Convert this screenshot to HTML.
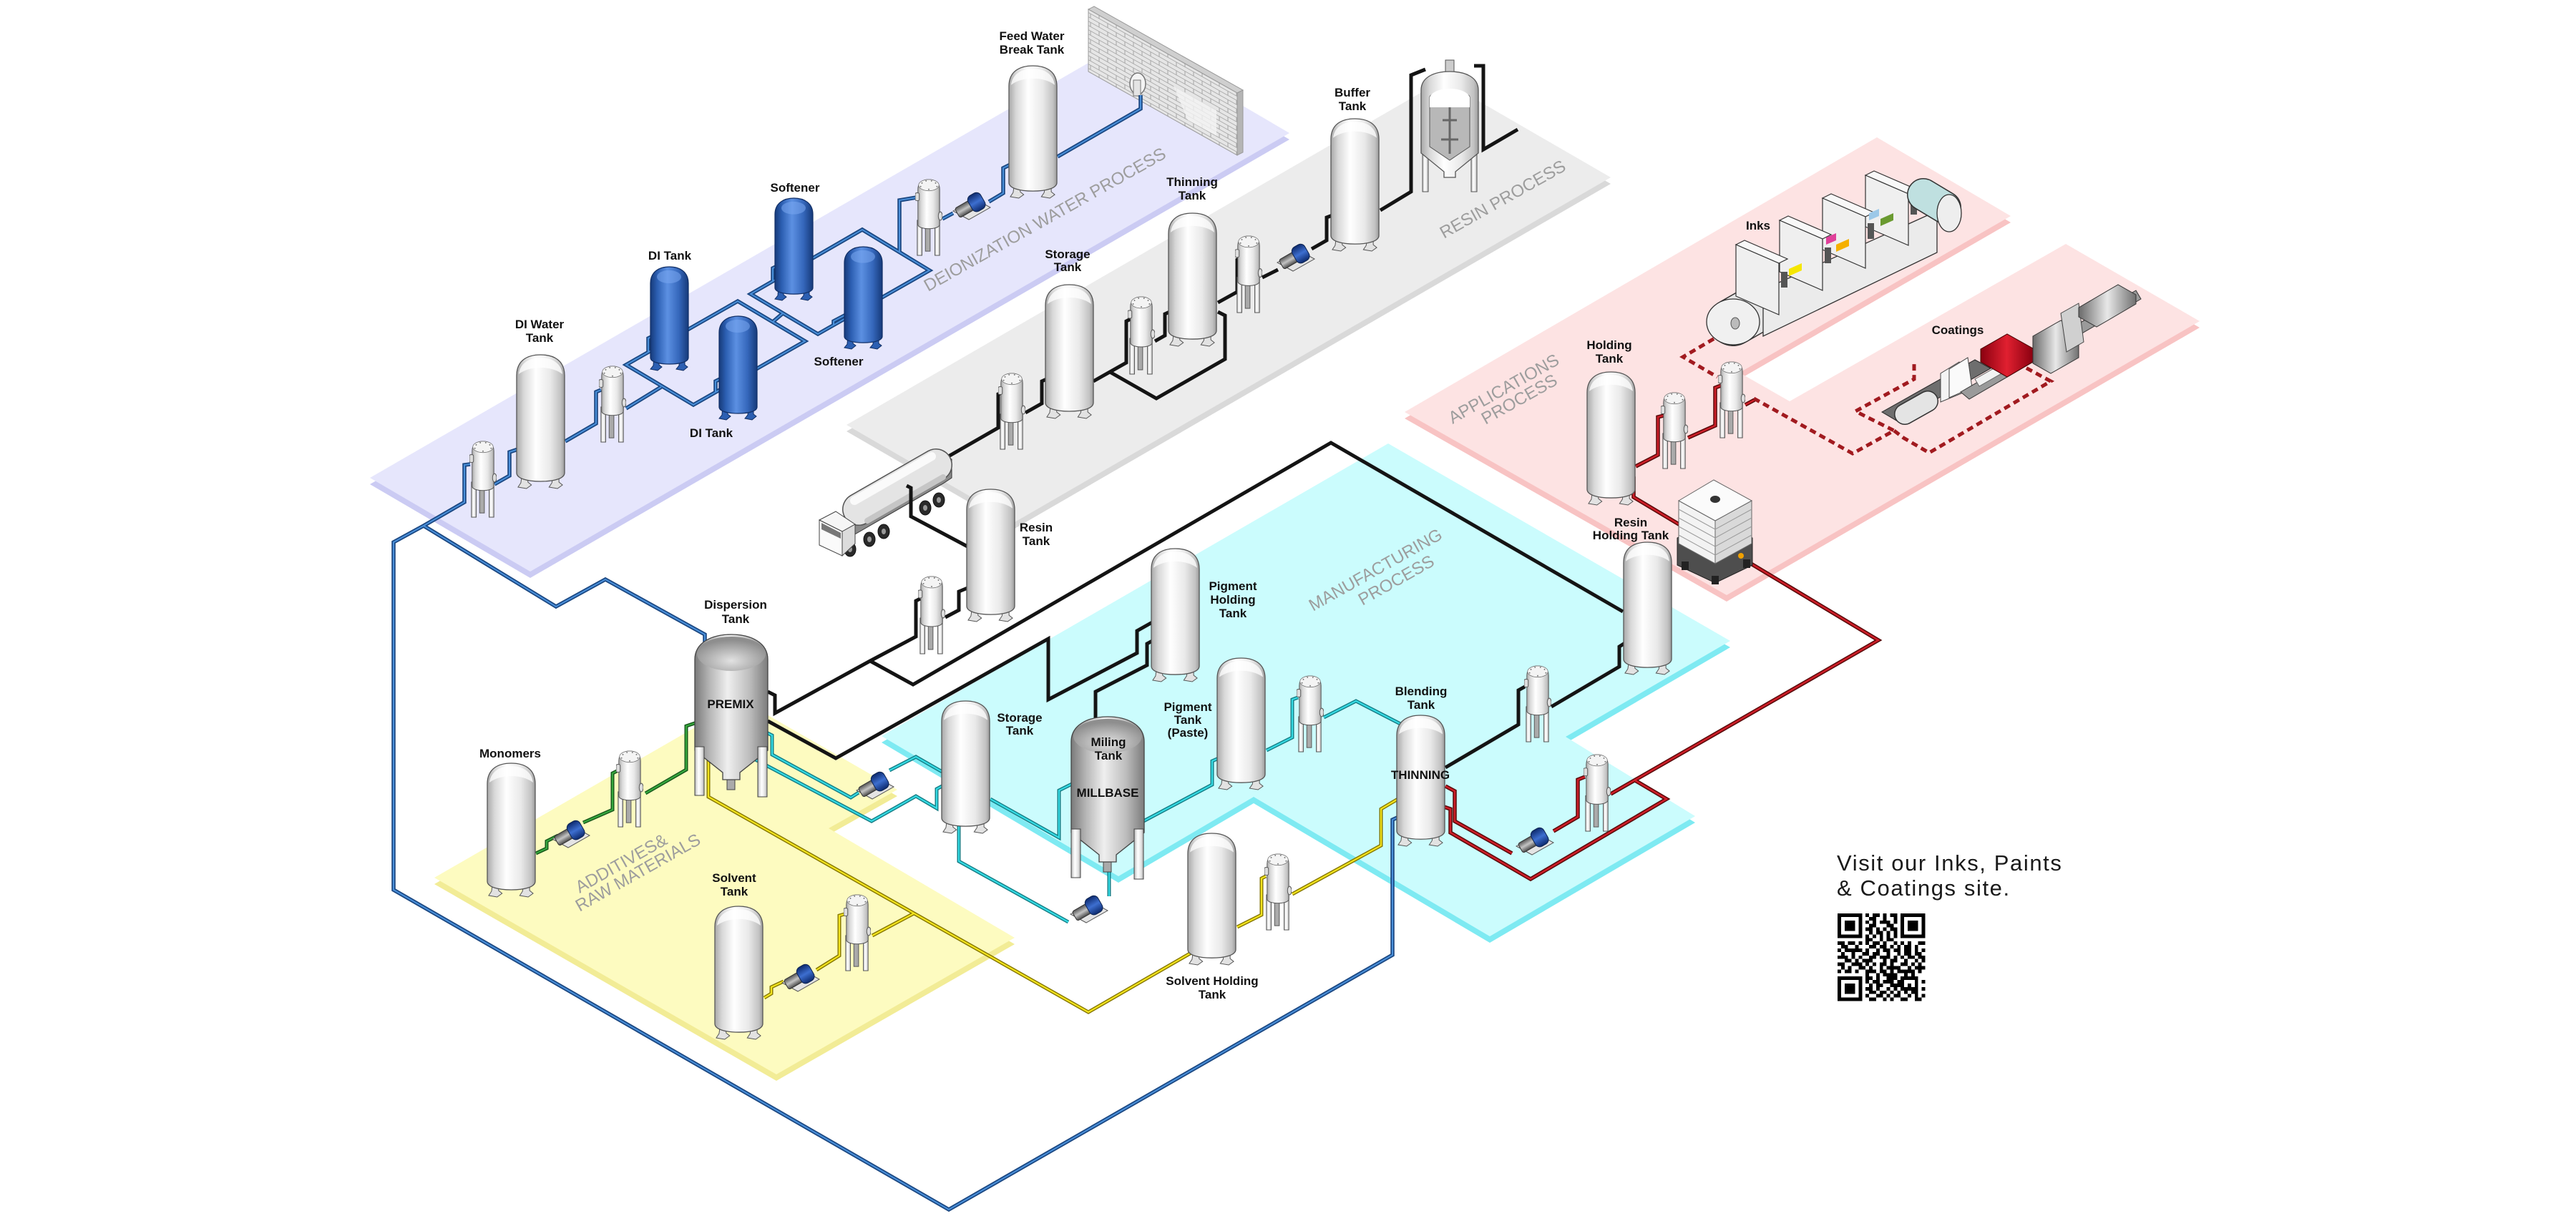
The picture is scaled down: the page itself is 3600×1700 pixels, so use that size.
<!DOCTYPE html>
<html><head><meta charset="utf-8">
<style>
html,body{margin:0;padding:0;background:#fff;}
svg{display:block;}
.lb{font-family:"Liberation Sans",Arial,sans-serif;font-weight:bold;font-size:17px;fill:#111;text-anchor:middle;}
.pl{font-family:"Liberation Sans",Arial,sans-serif;font-size:24px;fill:#9d9d9d;}
.p{fill:none;stroke-linejoin:miter;stroke-linecap:butt;}
.bo{stroke:#1b4781;stroke-width:5.5}.bi{stroke:#4a90da;stroke-width:2}
.k{stroke:#141414;stroke-width:5}
.to{stroke:#147c84;stroke-width:5}.ti{stroke:#36dbe4;stroke-width:2.2}
.yo{stroke:#857600;stroke-width:5}.yi{stroke:#f3e41e;stroke-width:2.2}
.go{stroke:#15551a;stroke-width:5}.gi{stroke:#37a83e;stroke-width:2.2}
.ro{stroke:#560808;stroke-width:5.5}.ri{stroke:#cc1e28;stroke-width:2.6}
.rd{stroke:#a11a1f;stroke-width:5;stroke-dasharray:9 6;fill:none}
</style></head><body>
<svg width="3600" height="1700" viewBox="0 0 3600 1700" xmlns="http://www.w3.org/2000/svg">
<defs>
<linearGradient id="gT" x1="0" x2="1" y1="0" y2="0">
<stop offset="0" stop-color="#a8a8a8"/><stop offset=".15" stop-color="#d8d8d8"/><stop offset=".4" stop-color="#ffffff"/><stop offset=".7" stop-color="#e9e9e9"/><stop offset=".92" stop-color="#c2c2c2"/><stop offset="1" stop-color="#9a9a9a"/>
</linearGradient>
<linearGradient id="gB" x1="0" x2="1" y1="0" y2="0">
<stop offset="0" stop-color="#163a7a"/><stop offset=".18" stop-color="#2c5fb2"/><stop offset=".45" stop-color="#5c90e2"/><stop offset=".75" stop-color="#3567bb"/><stop offset="1" stop-color="#163a7a"/>
</linearGradient>
<linearGradient id="gP" x1="0" x2="1" y1="0" y2="0">
<stop offset="0" stop-color="#7a7a7a"/><stop offset=".2" stop-color="#b5b5b5"/><stop offset=".45" stop-color="#efefef"/><stop offset=".75" stop-color="#bdbdbd"/><stop offset="1" stop-color="#7c7c7c"/>
</linearGradient>
<radialGradient id="gPt" cx=".5" cy=".7" r=".6">
<stop offset="0" stop-color="#e2e2e2"/><stop offset="1" stop-color="#8e8e8e"/>
</radialGradient>
<linearGradient id="gG" x1="0" x2="0" y1="0" y2="1">
<stop offset="0" stop-color="#555"/><stop offset=".5" stop-color="#c4c4c4"/><stop offset="1" stop-color="#4a4a4a"/>
</linearGradient>
<linearGradient id="gBl" x1="0" x2="0" y1="0" y2="1">
<stop offset="0" stop-color="#0d2a6e"/><stop offset=".5" stop-color="#3d6fd0"/><stop offset="1" stop-color="#0d2a6e"/>
</linearGradient>
<linearGradient id="gR" x1="0" x2="1" y1="0" y2="0">
<stop offset="0" stop-color="#8a0010"/><stop offset=".5" stop-color="#e02030"/><stop offset="1" stop-color="#8a0010"/>
</linearGradient>
<linearGradient id="gHood" x1="0" x2="1" y1="0" y2="0">
<stop offset="0" stop-color="#6a6a6a"/><stop offset=".5" stop-color="#e8e8e8"/><stop offset="1" stop-color="#707070"/>
</linearGradient>
<pattern id="brick" width="24" height="12" patternUnits="userSpaceOnUse" patternTransform="skewY(29.4)">
<rect width="24" height="12" fill="#e6e6e6"/>
<path d="M0,0.5H24M0,6.5H24M12,0V6M0,6V12M24,6V12" stroke="#a8a8a8" stroke-width="1" fill="none"/>
</pattern>

<symbol id="tk" viewBox="0 0 70 190" preserveAspectRatio="none">
<path d="M9,166h8v13l5,4-7,5-12-2 4-6z" fill="#e2e2e2" stroke="#555" stroke-width="1"/>
<path d="M53,166h8v13l5,4-7,5-12-2 4-6z" fill="#e2e2e2" stroke="#555" stroke-width="1"/>
<path d="M1,30C1,9 16,1 35,1C54,1 69,9 69,30V166C69,174 54,178 35,178C16,178 1,174 1,166Z" fill="url(#gT)" stroke="#555" stroke-width="1.3"/>
<path d="M4,28C6,12 20,5 35,5C50,5 64,12 66,28C58,22 47,19 35,19C23,19 12,22 4,28Z" fill="#fff" opacity=".75"/>
</symbol>
<symbol id="bt" viewBox="0 0 55 148" preserveAspectRatio="none">
<path d="M6,126h7v12l4,3-6,5-10-2 4-5z" fill="#2c5fb2" stroke="#0f2c60"/>
<path d="M42,126h7v12l4,3-6,5-10-2 4-5z" fill="#2c5fb2" stroke="#0f2c60"/>
<path d="M1,24C1,8 13,1 27.5,1C42,1 54,8 54,24V128C54,134 42,137 27.5,137C13,137 1,134 1,128Z" fill="url(#gB)" stroke="#112f66" stroke-width="1.2"/>
<ellipse cx="27" cy="15" rx="17" ry="9" fill="#7aa8f0" opacity=".55"/>
</symbol>
<symbol id="fl" viewBox="0 0 40 112" preserveAspectRatio="none">
<rect x="15" y="60" width="7" height="44" fill="#aaa" stroke="#555"/>
<rect x="3" y="60" width="7" height="50" fill="url(#gT)" stroke="#555"/>
<rect x="29" y="60" width="7" height="50" fill="url(#gT)" stroke="#555"/>
<path d="M4,16C4,5 12,2 20,2C28,2 36,5 36,16V66C36,70 28,72 20,72C12,72 4,70 4,66Z" fill="url(#gT)" stroke="#555"/>
<ellipse cx="20" cy="10" rx="15" ry="8" fill="#f4f4f4" stroke="#777" stroke-width=".8"/>
<g fill="#777"><circle cx="10" cy="7" r="1"/><circle cx="16" cy="4" r="1"/><circle cx="24" cy="4" r="1"/><circle cx="30" cy="7" r="1"/><circle cx="32" cy="12" r="1"/><circle cx="8" cy="12" r="1"/><circle cx="20" cy="16" r="1"/></g>
<rect x="0" y="21" width="6" height="11" rx="2" fill="#ddd" stroke="#555"/>
<ellipse cx="37" cy="54" rx="3" ry="6" fill="#ddd" stroke="#555"/>
</symbol>
<symbol id="pm" viewBox="0 0 56 46">
<polygon points="2,33 32,16 54,28 24,45" fill="#e4e4e4" stroke="#555"/>
<g transform="rotate(-30 28 25)">
<rect x="5" y="17" width="23" height="15" rx="3" fill="url(#gG)" stroke="#333"/>
<rect x="26" y="12" width="20" height="25" rx="7" fill="url(#gBl)" stroke="#0e2450"/>
</g>
</symbol>
<symbol id="dt" viewBox="0 0 104 230">
<rect x="46" y="150" width="11" height="68" fill="#aaa" stroke="#444"/>
<path d="M1,36C1,12 25,1 52,1C79,1 103,12 103,36V163L64,194V204H40V194L1,163Z" fill="url(#gP)" stroke="#444" stroke-width="1.3"/>
<ellipse cx="52" cy="28" rx="48" ry="24" fill="url(#gPt)"/>
<rect x="1" y="158" width="13" height="68" fill="url(#gT)" stroke="#444"/>
<rect x="89" y="158" width="13" height="70" fill="url(#gT)" stroke="#444"/>
</symbol>

<g id="BL">
<path d="M657,649L649,650L649,702L592,735L550,758L550,1244L1326,1691L1946,1335L1946,1146L1957,1141"/>
<path d="M592,735L777,848L846,810L985,887L985,903"/>
<path d="M691,677L712,665L712,632L724,628"/>
<path d="M790,617L833,592L833,548L840,545"/>
<path d="M875,571L924,541"/>
<path d="M875,510L1031,421L1125,477L969,566Z"/>
<path d="M912,470L906,473L906,492"/>
<path d="M1006,530L1000,533L1000,549"/>
<path d="M1049,411L1205,321L1299,378L1143,467Z"/>
<path d="M1080,450L1094,438"/>
<path d="M1086,372L1080,375L1080,393"/>
<path d="M1182,440L1165,449L1165,455"/>
<path d="M1257,353L1257,280L1281,276"/>
<path d="M1317,306L1332,298"/>
<path d="M1382,282L1402,270L1402,235L1412,230"/>
<path d="M1478,219L1594,152L1594,133"/>
</g>
<g id="TL">
<path d="M1067,1022L1079,1028L1079,1055L1189,1115L1200,1108"/>
<path d="M1243,1077L1280,1058L1315,1078L1320,1075"/>
<path d="M1047,1033L1052,1040L1052,1060L1218,1148L1280,1113L1309,1130L1309,1103L1324,1095"/>
<path d="M1384,1117L1480,1171L1480,1105L1506,1092"/>
<path d="M1350,1141L1340,1148L1340,1204L1493,1289"/>
<path d="M1550,1253L1550,1210"/>
<path d="M1598,1148L1694,1097L1694,1064L1710,1057"/>
<path d="M1770,1049L1806,1031L1806,978L1814,975"/>
<path d="M1850,1003L1895,980L1961,1014L1961,1022"/>
</g>
<g id="YL">
<path d="M997,1038L990,1043L990,1114L1521,1415L1663,1333L1663,1310L1670,1306"/>
<path d="M1068,1395L1078,1389L1078,1380L1095,1372"/>
<path d="M1141,1356L1173,1336L1173,1280L1180,1278"/>
<path d="M1219,1308L1277,1277"/>
<path d="M1729,1296L1763,1279L1763,1228L1769,1225"/>
<path d="M1806,1250L1930,1182L1930,1131L1957,1115"/>
</g>
<g id="GL">
<path d="M749,1193L764,1186L764,1176L780,1168"/>
<path d="M815,1150L856,1132L856,1081L862,1078"/>
<path d="M902,1109L959,1076L959,1015L974,1010"/>
</g>
<g id="RL">
<path d="M2286,652L2317,636L2317,583L2325,581"/>
<path d="M2359,612L2397,595L2397,542L2405,539"/>
<path d="M2439,566L2452,559"/>
<path d="M2275,664L2283,668L2283,695L2348,734"/>
<path d="M2432,779L2625,895L2251,1110"/>
<path d="M2285,1091L2329,1117L2139,1229L2027,1164L2027,1131L2018,1128"/>
<path d="M2020,1099L2033,1106L2033,1148L2113,1193"/>
<path d="M2171,1162L2205,1142L2205,1090L2215,1086"/>
</g>
</defs>

<rect width="3600" height="1700" fill="#fff"/>

<!-- bands -->
<polygon points="517,677 1578,64 1802,195 741,808" fill="#cbcbf3"/>
<polygon points="517,668 1578,55 1802,186 741,799" fill="#e6e6fc"/>
<polygon points="1183,603 2016,121 2251,257 1418,739" fill="#d9d9d9"/>
<polygon points="1183,594 2016,112 2251,248 1418,730" fill="#ececec"/>
<polygon points="1963,585 2623,201 2810,311 2431,530 2501,570 2887,350 3074,458 2413,841" fill="#f8c3c3"/>
<polygon points="1963,576 2623,192 2810,302 2431,521 2501,561 2887,341 3074,449 2413,832" fill="#fde3e3"/>
<polygon points="1232,1038 1940,629 2418,905 2188,1039 2369,1150 2082,1318 1752,1123 1563,1234" fill="#7eeaf2"/>
<polygon points="1232,1029 1940,620 2418,896 2188,1030 2369,1141 2082,1309 1752,1114 1563,1225" fill="#cbfcfd"/>
<polygon points="607,1236 1037,988 1254,1113 1158,1167 1418,1320 1085,1511" fill="#f2ec96"/>
<polygon points="607,1227 1037,979 1254,1104 1158,1158 1418,1311 1085,1502" fill="#fdfbc0"/>

<!-- process labels -->
<text class="pl" transform="translate(1297,408) rotate(-29.4)">DEIONIZATION WATER PROCESS</text>
<text class="pl" font-size="25" transform="translate(2018,334) rotate(-29.4)">RESIN PROCESS</text>
<text class="pl" transform="translate(2030,593) rotate(-29.4)">APPLICATIONS</text>
<text class="pl" transform="translate(2076,594) rotate(-29.4)">PROCESS</text>
<text class="pl" transform="translate(1835,855) rotate(-29.4)">MANUFACTURING</text>
<text class="pl" transform="translate(1904,847) rotate(-29.4)">PROCESS</text>
<text class="pl" transform="translate(810,1249) rotate(-29.4)">ADDITIVES&amp;</text>
<text class="pl" transform="translate(810,1275) rotate(-29.4)">RAW MATERIALS</text>

<!-- brick wall -->
<polygon points="1521,13 1529,9 1737,126 1729,130" fill="#cfcfcf" stroke="#999"/>
<polygon points="1729,130 1737,126 1737,213 1729,217" fill="#b5b5b5" stroke="#999"/>
<polygon points="1521,13 1729,130 1729,217 1521,100" fill="url(#brick)" stroke="#999"/>
<polygon points="1640,120 1700,154 1700,190 1660,168" fill="#f4f4f4" opacity=".8"/>
<ellipse cx="1590" cy="117" rx="11" ry="15" fill="#f4f4f4" stroke="#777" stroke-width="1.5"/>
<rect x="1584" y="112" width="10" height="22" fill="#e4e4e4" stroke="#777"/>

<!-- pipes -->
<use href="#BL" class="p bo"/><use href="#BL" class="p bi"/>
<g class="p k">
<path d="M1073,967L1083,972L1083,997L1216,924L1280,890L1280,840L1286,837"/>
<path d="M1216,924L1276,957L1860,619L2268,855"/>
<path d="M1321,863L1340,853L1340,827L1357,820"/>
<path d="M1073,1008L1168,1060L1465,893L1465,978L1589,913L1589,882L1612,869"/>
<path d="M1531,1008L1531,967L1603,930L1603,900L1612,895"/>
<path d="M1322,640L1395,598L1395,551L1400,549"/>
<path d="M1433,577L1456,564L1456,533L1467,528"/>
<path d="M1528,533L1574,507L1574,449L1580,446"/>
<path d="M1551,520L1616,557L1712,502L1712,441L1702,436"/>
<path d="M1614,477L1628,469L1628,439L1639,434"/>
<path d="M1702,423L1729,408L1729,363L1735,360"/>
<path d="M1764,388L1786,377"/>
<path d="M1833,348L1854,336L1854,304L1862,301"/>
<path d="M1929,294L1972,268L1972,105L1992,97"/>
<path d="M2060,92L2073,92L2073,209L2121,181"/>
<path d="M2020,1073L2122,1013L2122,965L2131,960"/>
<path d="M2168,988L2263,932L2263,904L2277,895"/>
</g>
<use href="#TL" class="p to"/><use href="#TL" class="p ti"/>
<use href="#YL" class="p yo"/><use href="#YL" class="p yi"/>
<use href="#GL" class="p go"/><use href="#GL" class="p gi"/>
<use href="#RL" class="p ro"/><use href="#RL" class="p ri"/>
<path class="rd" d="M2408,466L2352,499L2400,527"/>
<path class="rd" d="M2451,557L2589,634L2647,602L2593,575L2675,530L2675,508"/>
<path class="rd" d="M2647,602L2660,612L2696,633L2866,533L2792,493"/>

<!-- hopper -->
<rect x="1988" y="195" width="8" height="73" fill="url(#gT)" stroke="#555"/>
<rect x="2056" y="195" width="8" height="73" fill="url(#gT)" stroke="#555"/>
<rect x="2020" y="84" width="12" height="20" fill="#ccc" stroke="#555"/>
<path d="M1986,126C1986,108 2004,100 2026,100C2048,100 2066,108 2066,126V214L2034,240V248H2018V240L1986,214Z" fill="url(#gT)" stroke="#555" stroke-width="1.3"/>
<path d="M1998,136C1998,126 2054,126 2054,136V205L2026,224L1998,205Z" fill="#b8b8b8" stroke="#555"/>
<path d="M1998,136C2004,120 2048,120 2054,136V150H1998Z" fill="#fff"/>
<path d="M2026,150V215M2016,168h20M2014,195h24" stroke="#666" stroke-width="3"/>

<!-- truck -->
<polygon points="1186,752 1318,676 1330,668 1330,642 1322,638 1200,708 1192,730" fill="#8a8a8a" stroke="#333"/>
<g fill="#2a2a2a" stroke="#111">
<ellipse cx="1188" cy="768" rx="8" ry="10"/><ellipse cx="1215" cy="754" rx="8" ry="10"/><ellipse cx="1235" cy="743" rx="8" ry="10"/>
<ellipse cx="1293" cy="710" rx="8" ry="10"/><ellipse cx="1312" cy="699" rx="8" ry="10"/>
</g>
<g fill="#999"><ellipse cx="1188" cy="768" rx="3" ry="4"/><ellipse cx="1215" cy="754" rx="3" ry="4"/><ellipse cx="1235" cy="743" rx="3" ry="4"/><ellipse cx="1293" cy="710" rx="3" ry="4"/><ellipse cx="1312" cy="699" rx="3" ry="4"/></g>
<line x1="1200" y1="712" x2="1308" y2="650" stroke="#555" stroke-width="46" stroke-linecap="round"/>
<line x1="1200" y1="712" x2="1308" y2="650" stroke="#e4e4e4" stroke-width="43" stroke-linecap="round"/>
<line x1="1194" y1="700" x2="1302" y2="638" stroke="#fafafa" stroke-width="12" stroke-linecap="round"/>
<line x1="1212" y1="728" x2="1318" y2="667" stroke="#c6c6c6" stroke-width="8" stroke-linecap="round"/>
<path class="p k" d="M1267,679L1273,682L1273,722L1352,764"/>
<polygon points="1145,727 1168,715 1195,733 1177,743" fill="#f6f6f6" stroke="#444"/>
<polygon points="1145,727 1177,743 1177,777 1145,762" fill="#fafafa" stroke="#444"/>
<polygon points="1177,743 1195,733 1195,760 1177,777" fill="#dcdcdc" stroke="#444"/>
<polygon points="1148,731 1175,745 1175,753 1148,740" fill="#777"/>

<!-- tanks -->
<use href="#tk" x="721" y="495" width="69" height="190"/>
<use href="#tk" x="1409" y="91" width="69" height="188"/>
<use href="#tk" x="1460" y="397" width="69" height="190"/>
<use href="#tk" x="1632" y="297" width="69" height="189"/>
<use href="#tk" x="1859" y="165" width="69" height="188"/>
<use href="#tk" x="1350" y="683" width="69" height="188"/>
<use href="#tk" x="2217" y="519" width="69" height="189"/>
<use href="#tk" x="2268" y="757" width="69" height="188"/>
<use href="#tk" x="1608" y="766" width="69" height="189"/>
<use href="#tk" x="1315" y="979" width="69" height="188"/>
<use href="#tk" x="1700" y="919" width="69" height="187"/>
<use href="#tk" x="1659" y="1164" width="69" height="187"/>
<use href="#tk" x="1951" y="999" width="69" height="186"/>
<use href="#tk" x="680" y="1066" width="69" height="190"/>
<use href="#tk" x="998" y="1266" width="69" height="189"/>
<use href="#bt" x="908" y="372" width="55" height="148"/>
<use href="#bt" x="1004" y="441" width="55" height="148"/>
<use href="#bt" x="1082" y="276" width="55" height="146"/>
<use href="#bt" x="1179" y="344" width="55" height="146"/>
<use href="#dt" x="970" y="886" width="104" height="230"/>
<use href="#dt" x="1496" y="1000" width="104" height="232"/>

<!-- filters -->
<use href="#fl" x="656" y="615" width="38" height="110"/>
<use href="#fl" x="837" y="510" width="38" height="110"/>
<use href="#fl" x="1279" y="249" width="38" height="110"/>
<use href="#fl" x="1395" y="520" width="38" height="110"/>
<use href="#fl" x="1576" y="413" width="38" height="112"/>
<use href="#fl" x="1726" y="328" width="38" height="111"/>
<use href="#fl" x="1283" y="804" width="38" height="112"/>
<use href="#fl" x="2321" y="547" width="38" height="110"/>
<use href="#fl" x="2401" y="504" width="38" height="110"/>
<use href="#fl" x="861" y="1048" width="38" height="110"/>
<use href="#fl" x="1179" y="1249" width="38" height="110"/>
<use href="#fl" x="1767" y="1192" width="38" height="110"/>
<use href="#fl" x="1812" y="943" width="38" height="110"/>
<use href="#fl" x="2130" y="929" width="38" height="110"/>
<use href="#fl" x="2213" y="1053" width="38" height="111"/>

<!-- pumps -->
<use href="#pm" x="1330" y="262" width="56" height="46"/>
<use href="#pm" x="1783" y="334" width="56" height="46"/>
<use href="#pm" x="1195" y="1072" width="56" height="46"/>
<use href="#pm" x="1494" y="1245" width="56" height="46"/>
<use href="#pm" x="770" y="1140" width="56" height="46"/>
<use href="#pm" x="1091" y="1341" width="56" height="46"/>
<use href="#pm" x="2117" y="1150" width="56" height="46"/>

<!-- IBC tote -->
<polygon points="2344,752 2397,722 2449,752 2449,790 2397,815 2344,790" fill="#4e4e4e" stroke="#222"/>
<g fill="#222"><rect x="2350" y="785" width="10" height="12"/><rect x="2392" y="805" width="10" height="12"/><rect x="2436" y="782" width="10" height="12"/></g>
<polygon points="2346,700 2346,760 2397,788 2397,728" fill="#f3f3f3" stroke="#666"/>
<polygon points="2397,728 2397,788 2448,760 2448,700" fill="#d9d9d9" stroke="#666"/>
<polygon points="2346,700 2395,671 2448,700 2397,728" fill="#fbfbfb" stroke="#666"/>
<path d="M2346,712L2397,740L2448,712M2346,724L2397,752L2448,724M2346,736L2397,764L2448,736M2346,748L2397,776L2448,748" stroke="#9a9a9a" fill="none"/>
<ellipse cx="2397" cy="698" rx="7" ry="5" fill="#333"/>
<circle cx="2433" cy="777" r="4" fill="#f0a000"/>

<!-- printing press -->
<line x1="2422" y1="450" x2="2450" y2="434" stroke="#333" stroke-width="68" stroke-linecap="round"/>
<line x1="2422" y1="450" x2="2450" y2="434" stroke="#e6e6e6" stroke-width="65" stroke-linecap="round"/>
<polygon points="2464,405 2707,295 2707,353 2464,470" fill="#ebebeb" stroke="#333" stroke-width="1.3"/>
<g stroke="#333" stroke-width="1.2">
<polygon points="2607,245 2619,239 2679,265 2667,271" fill="#f8f8f8"/>
<polygon points="2607,245 2667,271 2667,343 2607,317" fill="#efefef"/>
<polygon points="2547,277 2559,271 2619,297 2607,303" fill="#f8f8f8"/>
<polygon points="2547,277 2607,303 2607,375 2547,349" fill="#efefef"/>
<polygon points="2487,308 2499,302 2559,328 2547,334" fill="#f8f8f8"/>
<polygon points="2487,308 2547,334 2547,406 2487,380" fill="#efefef"/>
<polygon points="2426,342 2438,336 2498,362 2486,368" fill="#f8f8f8"/>
<polygon points="2426,342 2486,368 2486,440 2426,414" fill="#efefef"/>
</g>
<polygon points="2500,376 2518,368 2518,378 2500,386" fill="#f5e600"/>
<polygon points="2552,332 2566,326 2566,336 2552,342" fill="#e0409a"/>
<polygon points="2566,342 2584,334 2584,344 2566,352" fill="#f5b000"/>
<polygon points="2612,298 2626,292 2626,302 2612,308" fill="#9cc8e8"/>
<polygon points="2628,306 2646,298 2646,308 2628,316" fill="#6a9a30"/>
<rect x="2489" y="380" width="9" height="22" fill="#555"/>
<rect x="2550" y="346" width="9" height="22" fill="#555"/>
<rect x="2610" y="312" width="9" height="22" fill="#555"/>
<rect x="2670" y="278" width="9" height="22" fill="#555"/>
<line x1="2688" y1="272" x2="2718" y2="290" stroke="#333" stroke-width="46" stroke-linecap="round"/>
<line x1="2688" y1="272" x2="2718" y2="290" stroke="#bfe0e0" stroke-width="43" stroke-linecap="round"/>
<ellipse cx="2724" cy="298" rx="17" ry="26" fill="#eee" stroke="#333" stroke-width="1.3"/>
<ellipse cx="2422" cy="450" rx="37" ry="32" fill="#f0f0f0" stroke="#333" stroke-width="1.3"/>
<ellipse cx="2425" cy="452" rx="6" ry="8" fill="#bbb" stroke="#555"/>

<!-- coating machine -->
<polygon points="2630,576 2760,503 2782,515 2652,589" fill="#6e6e6e" stroke="#222"/>
<line x1="2662" y1="579" x2="2694" y2="561" stroke="#333" stroke-width="30" stroke-linecap="round"/>
<line x1="2662" y1="579" x2="2694" y2="561" stroke="#e4e4e4" stroke-width="27" stroke-linecap="round"/>
<polygon points="2712,562 2712,522 2738,506 2746,548" fill="#f4f4f4" stroke="#444"/>
<polygon points="2724,556 2724,516 2750,500 2756,542" fill="#fafafa" stroke="#444"/>
<polygon points="2740,548 2985,406 2992,418 2752,558" fill="#9a9a9a" stroke="#333"/>
<polygon points="2760,530 2816,498 2822,508 2766,540" fill="#f2f2f2" stroke="#666"/>
<polygon points="2768,488 2805,467 2841,487 2841,506 2805,527 2768,506" fill="url(#gR)" stroke="#400"/>
<polygon points="2841,470 2880,448 2905,462 2905,500 2866,522 2841,508" fill="url(#gHood)" stroke="#333"/>
<polygon points="2880,438 2905,424 2912,478 2888,492" fill="#d0d0d0" stroke="#444"/>
<polygon points="2905,430 2960,398 2985,412 2985,425 2930,457 2905,443" fill="url(#gHood)" stroke="#333"/>

<!-- labels -->
<text class="lb" x="1442" y="56">Feed Water</text>
<text class="lb" x="1442" y="75">Break Tank</text>
<text class="lb" x="1111" y="268">Softener</text>
<text class="lb" x="936" y="363">DI Tank</text>
<text class="lb" x="1172" y="511">Softener</text>
<text class="lb" x="994" y="611">DI Tank</text>
<text class="lb" x="754" y="459">DI Water</text>
<text class="lb" x="754" y="478">Tank</text>
<text class="lb" x="1890" y="135">Buffer</text>
<text class="lb" x="1890" y="154">Tank</text>
<text class="lb" x="1666" y="260">Thinning</text>
<text class="lb" x="1666" y="279">Tank</text>
<text class="lb" x="1492" y="361">Storage</text>
<text class="lb" x="1492" y="379">Tank</text>
<text class="lb" x="1448" y="743">Resin</text>
<text class="lb" x="1448" y="762">Tank</text>
<text class="lb" x="2249" y="488">Holding</text>
<text class="lb" x="2249" y="507">Tank</text>
<text class="lb" x="2457" y="321">Inks</text>
<text class="lb" x="2736" y="467">Coatings</text>
<text class="lb" x="2279" y="736">Resin</text>
<text class="lb" x="2279" y="754">Holding Tank</text>
<text class="lb" x="1028" y="851">Dispersion</text>
<text class="lb" x="1028" y="871">Tank</text>
<text class="lb" x="1021" y="990">PREMIX</text>
<text class="lb" x="1723" y="825">Pigment</text>
<text class="lb" x="1723" y="844">Holding</text>
<text class="lb" x="1723" y="863">Tank</text>
<text class="lb" x="1425" y="1009">Storage</text>
<text class="lb" x="1425" y="1027">Tank</text>
<text class="lb" x="1549" y="1043">Miling</text>
<text class="lb" x="1549" y="1062">Tank</text>
<text class="lb" x="1548" y="1114">MILLBASE</text>
<text class="lb" x="1660" y="994">Pigment</text>
<text class="lb" x="1660" y="1012">Tank</text>
<text class="lb" x="1660" y="1030">(Paste)</text>
<text class="lb" x="1986" y="972">Blending</text>
<text class="lb" x="1986" y="991">Tank</text>
<text class="lb" x="1985" y="1089" font-size="13">THINNING</text>
<text class="lb" x="713" y="1059">Monomers</text>
<text class="lb" x="1026" y="1233">Solvent</text>
<text class="lb" x="1026" y="1252">Tank</text>
<text class="lb" x="1694" y="1377">Solvent Holding</text>
<text class="lb" x="1694" y="1396">Tank</text>

<!-- visit text -->
<text x="2567" y="1217" font-family="'Liberation Sans',Arial,sans-serif" font-size="31" letter-spacing="1.6" fill="#1a1a1a">Visit our Inks, Paints</text>
<text x="2567" y="1252" font-family="'Liberation Sans',Arial,sans-serif" font-size="31" letter-spacing="1.6" fill="#1a1a1a">&amp; Coatings site.</text>

<!-- QR -->
<g transform="translate(2568,1277) scale(4.9)" fill="#000" shape-rendering="crispEdges">
<path fill-rule="evenodd" d="M0,0h7v7h-7zM1,1v5h5v-5zM2,2h3v3h-3zM18,0h7v7h-7zM19,1v5h5v-5zM20,2h3v3h-3zM0,18h7v7h-7zM1,19v5h5v-5zM2,20h3v3h-3z"/>
<path d="M8,0h1v1h-1zM10,0h2v1h-2zM13,0h1v1h-1zM15,0h2v1h-2zM9,1h2v1h-2zM13,1h1v1h-1zM16,1h1v1h-1zM8,2h1v1h-1zM10,2h1v1h-1zM12,2h3v1h-3zM16,2h1v1h-1zM9,3h2v1h-2zM14,3h2v1h-2zM8,4h2v1h-2zM11,4h1v1h-1zM13,4h1v1h-1zM15,4h2v1h-2zM9,5h1v1h-1zM11,5h2v1h-2zM14,5h1v1h-1zM16,5h1v1h-1zM8,6h1v1h-1zM10,6h1v1h-1zM12,6h1v1h-1zM14,6h1v1h-1zM16,6h1v1h-1zM8,7h2v1h-2zM12,7h1v1h-1zM14,7h2v1h-2zM0,8h2v1h-2zM3,8h2v1h-2zM6,8h1v1h-1zM8,8h1v1h-1zM10,8h2v1h-2zM13,8h1v1h-1zM16,8h1v1h-1zM18,8h1v1h-1zM20,8h1v1h-1zM23,8h2v1h-2zM1,9h2v1h-2zM5,9h1v1h-1zM9,9h2v1h-2zM12,9h2v1h-2zM15,9h1v1h-1zM17,9h1v1h-1zM19,9h2v1h-2zM22,9h1v1h-1zM0,10h1v1h-1zM2,10h5v1h-5zM8,10h1v1h-1zM11,10h1v1h-1zM13,10h2v1h-2zM16,10h2v1h-2zM19,10h2v1h-2zM22,10h1v1h-1zM24,10h1v1h-1zM1,11h1v1h-1zM4,11h1v1h-1zM7,11h2v1h-2zM10,11h2v1h-2zM14,11h1v1h-1zM17,11h1v1h-1zM19,11h2v1h-2zM22,11h2v1h-2zM0,12h3v1h-3zM4,12h1v1h-1zM6,12h1v1h-1zM9,12h2v1h-2zM12,12h3v1h-3zM16,12h1v1h-1zM18,12h1v1h-1zM20,12h2v1h-2zM23,12h2v1h-2zM2,13h2v1h-2zM5,13h1v1h-1zM7,13h3v1h-3zM13,13h1v1h-1zM15,13h2v1h-2zM19,13h1v1h-1zM22,13h1v1h-1zM24,13h1v1h-1zM0,14h2v1h-2zM4,14h3v1h-3zM8,14h1v1h-1zM10,14h1v1h-1zM12,14h2v1h-2zM15,14h1v1h-1zM18,14h2v1h-2zM21,14h1v1h-1zM23,14h1v1h-1zM1,15h1v1h-1zM3,15h1v1h-1zM6,15h2v1h-2zM9,15h1v1h-1zM12,15h1v1h-1zM14,15h4v1h-4zM20,15h1v1h-1zM22,15h3v1h-3zM0,16h1v1h-1zM2,16h2v1h-2zM5,16h1v1h-1zM8,16h3v1h-3zM12,16h2v1h-2zM15,16h1v1h-1zM17,16h5v1h-5zM23,16h1v1h-1zM8,17h1v1h-1zM11,17h1v1h-1zM13,17h4v1h-4zM19,17h1v1h-1zM21,17h1v1h-1zM8,18h2v1h-2zM11,18h1v1h-1zM14,18h3v1h-3zM18,18h5v1h-5zM8,19h1v1h-1zM10,19h2v1h-2zM13,19h3v1h-3zM17,19h2v1h-2zM22,19h1v1h-1zM24,19h1v1h-1zM9,20h1v1h-1zM11,20h2v1h-2zM15,20h4v1h-4zM20,20h1v1h-1zM22,20h1v1h-1zM8,21h2v1h-2zM11,21h1v1h-1zM14,21h1v1h-1zM16,21h1v1h-1zM18,21h5v1h-5zM24,21h1v1h-1zM9,22h2v1h-2zM12,22h2v1h-2zM15,22h1v1h-1zM17,22h1v1h-1zM19,22h1v1h-1zM21,22h2v1h-2zM8,23h1v1h-1zM11,23h2v1h-2zM14,23h1v1h-1zM16,23h2v1h-2zM20,23h1v1h-1zM22,23h1v1h-1zM24,23h1v1h-1zM9,24h2v1h-2zM13,24h1v1h-1zM15,24h1v1h-1zM18,24h2v1h-2zM22,24h2v1h-2z"/>
</g>
</svg>
</body></html>
